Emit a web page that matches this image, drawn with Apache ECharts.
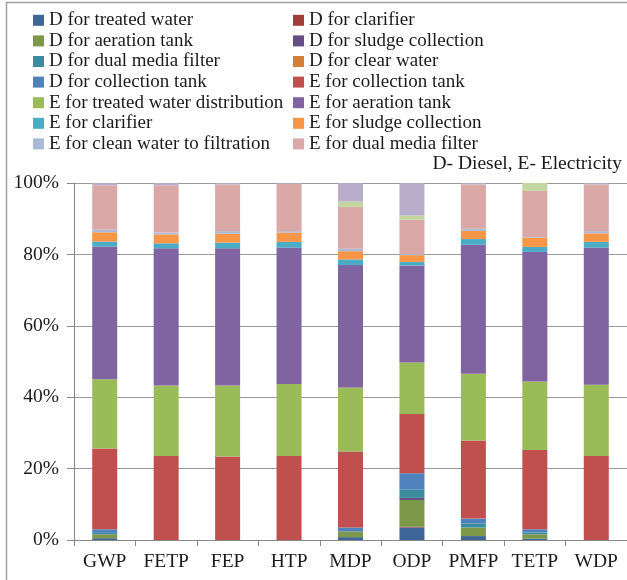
<!DOCTYPE html>
<html>
<head>
<meta charset="utf-8">
<script src="https://cdn.jsdelivr.net/npm/echarts@6/dist/echarts.min.js"></script>
<style>
  html, body { margin: 0; padding: 0; background: #fff; }
  #main { width: 627px; height: 580px; }
</style>
</head>
<body>
<div id="main"></div>
<script>
// categories (impact categories)
const categories = ["GWP", "FETP", "FEP", "HTP", "MDP", "ODP", "PMFP", "TETP", "WDP"];

// share of each process, % (stack order from the bottom)
const dTreatedWater   = [0.5, 0, 0, 0, 0.8, 3.5, 1.1, 0.4, 0];
const dClarifier      = [0, 0, 0, 0, 0, 0.2, 0, 0, 0];
const dAerationTank   = [1.1, 0, 0, 0, 1.6, 7.5, 2.4, 1.2, 0];
const dSludge         = [0, 0, 0, 0, 0, 0.6, 0, 0, 0];
const dDualMedia      = [0.4, 0, 0, 0, 0, 2.4, 1.1, 0.5, 0];
const dClearWater     = [0, 0, 0, 0, 0, 0, 0, 0, 0];
const dCollectionTank = [1.0, 0, 0, 0, 1.1, 4.5, 1.4, 0.9, 0];
const eCollectionTank = [22.6, 23.5, 23.4, 23.5, 21.3, 16.6, 21.9, 22.2, 23.5];
const eTreatedDistrib = [19.4, 19.8, 19.9, 20.2, 17.9, 14.4, 18.7, 19.2, 20.0];
const eAerationTank   = [37.2, 38.4, 38.4, 38.2, 34.3, 27.2, 36.1, 36.3, 38.4];
const eClarifier      = [1.4, 1.4, 1.6, 1.6, 1.6, 1.0, 1.6, 1.4, 1.6];
const eSludge         = [2.6, 2.5, 2.5, 2.6, 2.3, 1.9, 2.3, 2.6, 2.4];
const eCleanWater     = [0.7, 0.5, 0.7, 0.4, 0.7, 0.3, 0.6, 0.2, 0.6];
const eDualMedia      = [12.5, 13.3, 13.1, 13.3, 11.7, 9.6, 12.4, 12.9, 13.1];
// two more series drawn at the top but not listed in the legend
const extraGreen      = [0, 0, 0, 0, 1.5, 1.2, 0, 2.2, 0];
const extraPurple     = [0.6, 0.6, 0.4, 0.2, 5.2, 9.1, 0.4, 0, 0.4];

const yTicks = [0, 20, 40, 60, 80, 100];

const seriesDefs = [
  ["D for treated water", dTreatedWater, "#3f6699"],
  ["D for clarifier", dClarifier, "#a23d3a"],
  ["D for aeration tank", dAerationTank, "#7d9848"],
  ["D for sludge collection", dSludge, "#644c86"],
  ["D for dual media filter", dDualMedia, "#3b8c9f"],
  ["D for clear water", dClearWater, "#d47e36"],
  ["D for collection tank", dCollectionTank, "#4f81bd"],
  ["E for collection tank", eCollectionTank, "#c0504d"],
  ["E for treated water distribution", eTreatedDistrib, "#9bbb59"],
  ["E for aeration tank", eAerationTank, "#8064a2"],
  ["E for clarifier", eClarifier, "#4bacc6"],
  ["E for sludge collection", eSludge, "#f79646"],
  ["E for clean water to filtration", eCleanWater, "#aab9d6"],
  ["E for dual media filter", eDualMedia, "#d9a8a7"],
  ["Series 15", extraGreen, "#c3d6a0"],
  ["Series 16", extraPurple, "#b8aecb"]
];

const legendNames = seriesDefs.slice(0, 14).map(d => d[0]);
const leftCol = legendNames.filter((n, i) => i % 2 === 0);
const rightCol = legendNames.filter((n, i) => i % 2 === 1);

const serif = "Liberation Serif";
const legendBase = {
  orient: "vertical",
  top: 5,
  itemWidth: 11,
  itemHeight: 11,
  itemGap: 0,
  icon: "rect",
  selectedMode: false,
  textStyle: { fontFamily: serif, fontSize: 19, color: "#1a1a1a", lineHeight: 20.6 }
};

const chart = echarts.init(document.getElementById("main"));
chart.setOption({
  animation: false,
  backgroundColor: "#fff",
  legend: [
    Object.assign({}, legendBase, { left: 28, data: leftCol }),
    Object.assign({}, legendBase, { left: 288, data: rightCol })
  ],
  graphic: [
    {
      type: "rect",
      shape: { x: 6.5, y: 2.5, width: 700, height: 700 },
      style: { fill: "none", stroke: "#a0a0a0", lineWidth: 1.5 }
    },
    {
      type: "text",
      right: 5,
      top: 154,
      style: { text: "D- Diesel, E- Electricity", font: "19.5px 'Liberation Serif'", fill: "#1a1a1a" }
    }
  ],
  grid: { left: 74, right: 0, top: 183, bottom: 40 },
  xAxis: {
    type: "category",
    data: categories,
    boundaryGap: true,
    axisLine: { lineStyle: { color: "#888", width: 1 } },
    axisTick: { show: true, length: 6, lineStyle: { color: "#888" } },
    axisLabel: { interval: 0, fontFamily: serif, fontSize: 19.5, color: "#1a1a1a", margin: 12 }
  },
  yAxis: {
    type: "value",
    min: yTicks[0],
    max: yTicks[yTicks.length - 1],
    interval: 20,
    axisLine: { show: true, lineStyle: { color: "#888", width: 1 } },
    axisTick: { show: true, length: 7, lineStyle: { color: "#888" } },
    splitLine: { lineStyle: { color: "#999", width: 1 } },
    axisLabel: { fontFamily: serif, fontSize: 19.5, color: "#1a1a1a", margin: 15, formatter: "{value}%" }
  },
  series: seriesDefs.map(d => ({
    name: d[0],
    type: "bar",
    stack: "total",
    data: d[1],
    barWidth: 25,
    itemStyle: { color: d[2] },
    emphasis: { disabled: true }
  }))
});
</script>
</body>
</html>
